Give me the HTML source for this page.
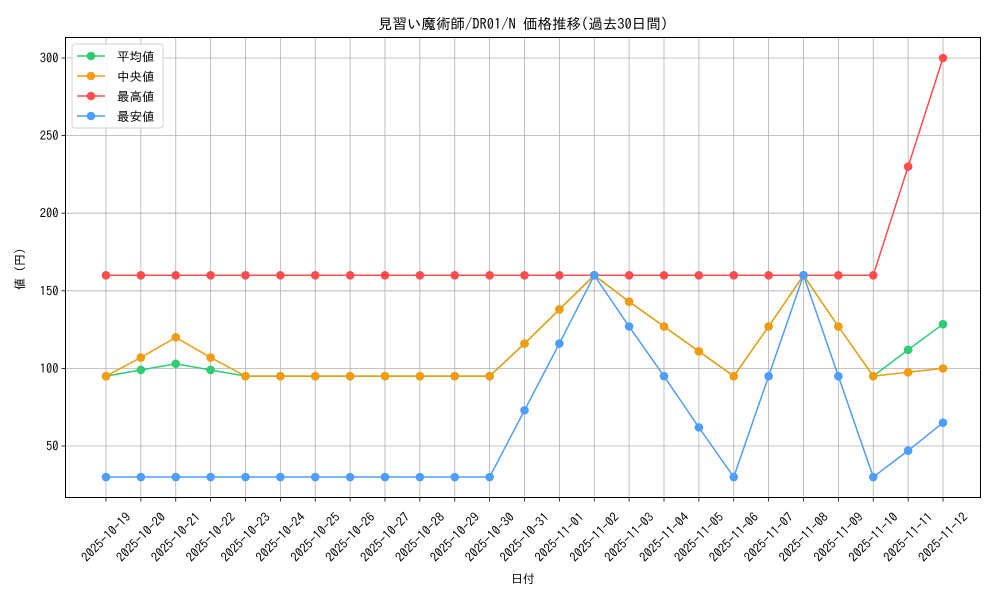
<!DOCTYPE html>
<html><head><meta charset="utf-8"><style>
html,body{margin:0;padding:0;background:#fff;}
svg text{font-family:"IPAGothic","Liberation Sans","Noto Sans CJK JP",sans-serif;fill:#000;}
</style></head><body>
<svg id="c" width="1000" height="600" xmlns="http://www.w3.org/2000/svg"></svg>
<script>
const L=65.5,R=980.5,T=37.5,B=497.5;
const x0=106,dx=(943-106)/24;
const y=v=>58+(300-v)*1.552;
const X=i=>x0+i*dx;
const dates=[];
for(let d=19;d<=31;d++)dates.push('2025-10-'+d);
for(let d=1;d<=12;d++)dates.push('2025-11-'+(d<10?'0'+d:d));
const mx=Array(23).fill(160).concat([230,300]);
const mn=[30,30,30,30,30,30,30,30,30,30,30,30,73,116,160,127,95,62,30,95,160,95,30,47,65];
const md=[95,107,120,107,95,95,95,95,95,95,95,95,116,138,160,143,127,111,95,127,160,127,95,97.5,100];
const av=[95,99,103,99,95,95,95,95,95,95,95,95,116,138,160,143,127,111,95,127,160,127,95,112,128.5];
let s='';
dates.forEach((d,i)=>{const x=X(i);s+=`<line x1="${x}" y1="${T}" x2="${x}" y2="${B}" stroke="#b0b0b0" stroke-width="0.8"/>`;
s+=`<line x1="${x}" y1="${B}" x2="${x}" y2="${B+4}" stroke="#000" stroke-width="0.8"/>`;
s+=`<text transform="translate(${x},537) rotate(-45)" text-anchor="middle" dominant-baseline="central" font-size="12.6">${d}</text>`;});
[50,100,150,200,250,300].forEach(v=>{const yy=y(v);s+=`<line x1="${L}" y1="${yy}" x2="${R}" y2="${yy}" stroke="#b0b0b0" stroke-width="0.8"/>`;
s+=`<line x1="${L-4}" y1="${yy}" x2="${L}" y2="${yy}" stroke="#000" stroke-width="0.8"/>`;
s+=`<text x="${L-7}" y="${yy+4.5}" text-anchor="end" font-size="12.5">${v}</text>`;});
const series=[[av,'#2ecc71'],[md,'#f39c12'],[mx,'#ff4d4d'],[mn,'#4d9eff']];
series.forEach(([d,c])=>{s+=`<polyline fill="none" stroke="${c}" stroke-width="1.5" points="${d.map((v,i)=>X(i)+','+y(v)).join(' ')}"/>`;
d.forEach((v,i)=>s+=`<circle cx="${X(i)}" cy="${y(v)}" r="4.3" fill="${c}"/>`);});
s+=`<rect x="${L}" y="${T}" width="${R-L}" height="${B-T}" fill="none" stroke="#000" stroke-width="1"/>`;
s+=`<text x="523" y="29" text-anchor="middle" font-size="14.5">見習い魔術師/DR01/N 価格推移(過去30日間)</text>`;
s+=`<text x="523" y="583" text-anchor="middle" font-size="12">日付</text>`;
s+=`<text transform="translate(24,269) rotate(-90)" text-anchor="middle" font-size="12">値 (円)</text>`;
s+=`<rect x="72" y="44" width="91" height="84" rx="3" fill="#fff" fill-opacity="0.85" stroke="#d0d0d0"/>`;
['平均値','中央値','最高値','最安値'].forEach((t,i)=>{const yy=56+i*20,c=series[i][1];
s+=`<line x1="77" y1="${yy}" x2="105" y2="${yy}" stroke="${c}" stroke-width="1.5"/><circle cx="91" cy="${yy}" r="4.3" fill="${c}"/>`;
s+=`<text x="117" y="${yy+5}" font-size="12.5">${t}</text>`;});
document.getElementById('c').innerHTML=s;
</script>
</body></html>
